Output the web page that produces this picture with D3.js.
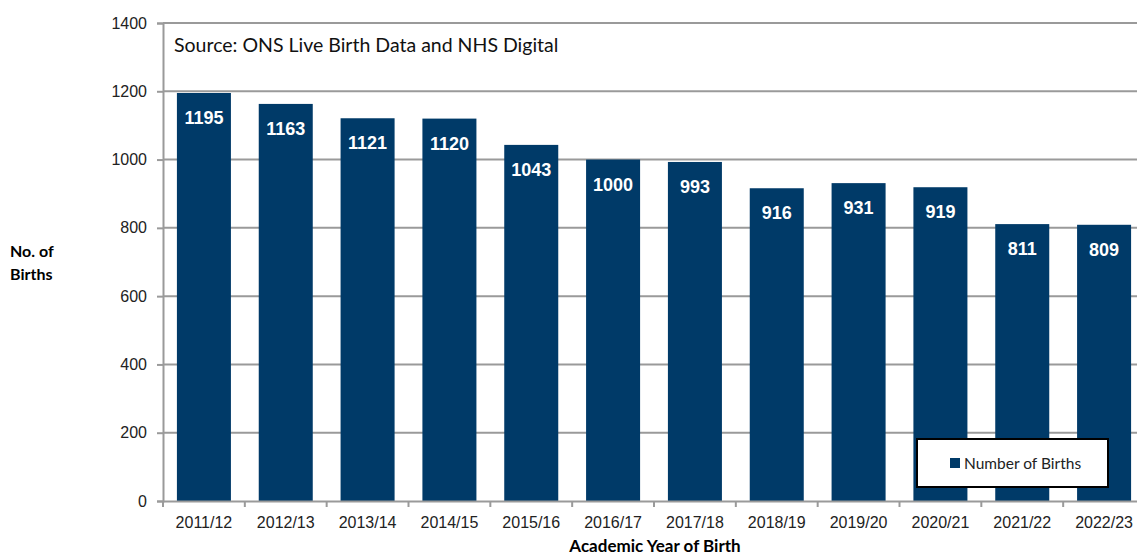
<!DOCTYPE html>
<html>
<head>
<meta charset="utf-8">
<script src="https://cdn.jsdelivr.net/npm/d3@7"></script>
<style>
  body { margin: 0; background: #fff; }
  svg { display: block; }
</style>
</head>
<body>
<svg id="chart"></svg>
<script>
const years = ["2011/12", "2012/13", "2013/14", "2014/15", "2015/16", "2016/17", "2017/18", "2018/19", "2019/20", "2020/21", "2021/22", "2022/23"]
const births = [1195, 1163, 1121, 1120, 1043, 1000, 993, 916, 931, 919, 811, 809]
const yTicks = [0, 200, 400, 600, 800, 1000, 1200, 1400]

const WIDTH = 1137, HEIGHT = 557
const margin = { top: 23, left: 163, bottom: 56, right: -8 }
const barColor = '#003a68'

const svg = d3.select('#chart').attr('width', WIDTH).attr('height', HEIGHT)

const x = d3.scaleBand()
    .domain(years)
    .range([margin.left, WIDTH - margin.right])
    .paddingInner(0.34)
    .paddingOuter(0.17)

const y = d3.scaleLinear()
    .domain([0, 1400])
    .range([HEIGHT - margin.bottom, margin.top])

// gridlines
svg.append('g')
    .selectAll('line')
    .data(yTicks.filter(d => d > 0))
    .join('line')
    .attr('x1', margin.left)
    .attr('x2', WIDTH)
    .attr('y1', d => y(d))
    .attr('y2', d => y(d))
    .attr('stroke', '#9a9a9a')
    .attr('stroke-width', 2)

// bars
svg.append('g')
    .selectAll('rect')
    .data(years)
    .join('rect')
    .attr('x', d => x(d))
    .attr('width', x.bandwidth())
    .attr('y', (d, i) => y(births[i]))
    .attr('height', (d, i) => y(0) - y(births[i]))
    .attr('fill', barColor)

// value labels
svg.append('g')
    .selectAll('text')
    .data(years)
    .join('text')
    .attr('x', d => x(d) + x.bandwidth() / 2)
    .attr('y', (d, i) => y(births[i]) + 31)
    .attr('text-anchor', 'middle')
    .style('font-family', 'Liberation Sans, Arial, sans-serif')
    .style('font-size', '18px')
    .style('font-weight', 'bold')
    .style('fill', '#fff')
    .text((d, i) => births[i])

// y axis
const yAxis = svg.append('g')
    .attr('transform', `translate(${margin.left},0)`)
    .call(d3.axisLeft(y).tickValues(yTicks).tickFormat(d3.format('d')).tickSize(6).tickPadding(10))
yAxis.select('.domain').attr('stroke', '#9a9a9a').attr('stroke-width', 2)
yAxis.selectAll('.tick line').attr('stroke', '#9a9a9a').attr('stroke-width', 2)
yAxis.selectAll('.tick text')
    .style('font-family', 'Liberation Sans, Arial, sans-serif')
    .style('font-size', '16px')
    .style('fill', '#222')

// x axis
const xAxis = svg.append('g')
    .attr('transform', `translate(0,${y(0)})`)
    .call(d3.axisBottom(x).tickSize(0).tickPadding(16))
xAxis.select('.domain').attr('stroke', '#9a9a9a').attr('stroke-width', 2)
xAxis.selectAll('.tick text')
    .style('font-family', 'Liberation Sans, Arial, sans-serif')
    .style('font-size', '16px')
    .style('fill', '#222')
const gap = x.step() - x.bandwidth()
xAxis.append('g')
    .selectAll('line')
    .data(years)
    .join('line')
    .attr('x1', d => x(d) - gap / 2)
    .attr('x2', d => x(d) - gap / 2)
    .attr('y1', 0)
    .attr('y2', 6)
    .attr('stroke', '#9a9a9a')
    .attr('stroke-width', 2)

// axis titles
svg.append('text')
    .attr('x', 10)
    .attr('y', 257)
    .style('font-family', 'Lato, sans-serif')
    .style('font-size', '16px')
    .style('font-weight', 'bold')
    .text('No. of')
svg.append('text')
    .attr('x', 10)
    .attr('y', 280)
    .style('font-family', 'Lato, sans-serif')
    .style('font-size', '16px')
    .style('font-weight', 'bold')
    .text('Births')
svg.append('text')
    .attr('x', 655)
    .attr('y', 552)
    .attr('text-anchor', 'middle')
    .style('font-family', 'Lato, sans-serif')
    .style('font-size', '17px')
    .style('font-weight', 'bold')
    .text('Academic Year of Birth')

// source note
svg.append('text')
    .attr('x', 174)
    .attr('y', 52)
    .style('font-family', 'Lato, sans-serif')
    .style('font-size', '19.5px')
    .style('fill', '#111')
    .text('Source: ONS Live Birth Data and NHS Digital')

// legend
const legend = svg.append('g').attr('transform', 'translate(917,439)')
legend.append('rect')
    .attr('width', 191).attr('height', 48)
    .attr('fill', '#fff').attr('stroke', '#000').attr('stroke-width', 2)
legend.append('rect')
    .attr('x', 33).attr('y', 19).attr('width', 10).attr('height', 10)
    .attr('fill', barColor)
legend.append('text')
    .attr('x', 47).attr('y', 30)
    .style('font-family', 'Lato, sans-serif')
    .style('font-size', '15.5px')
    .style('fill', '#222')
    .text('Number of Births')
</script>
</body>
</html>
